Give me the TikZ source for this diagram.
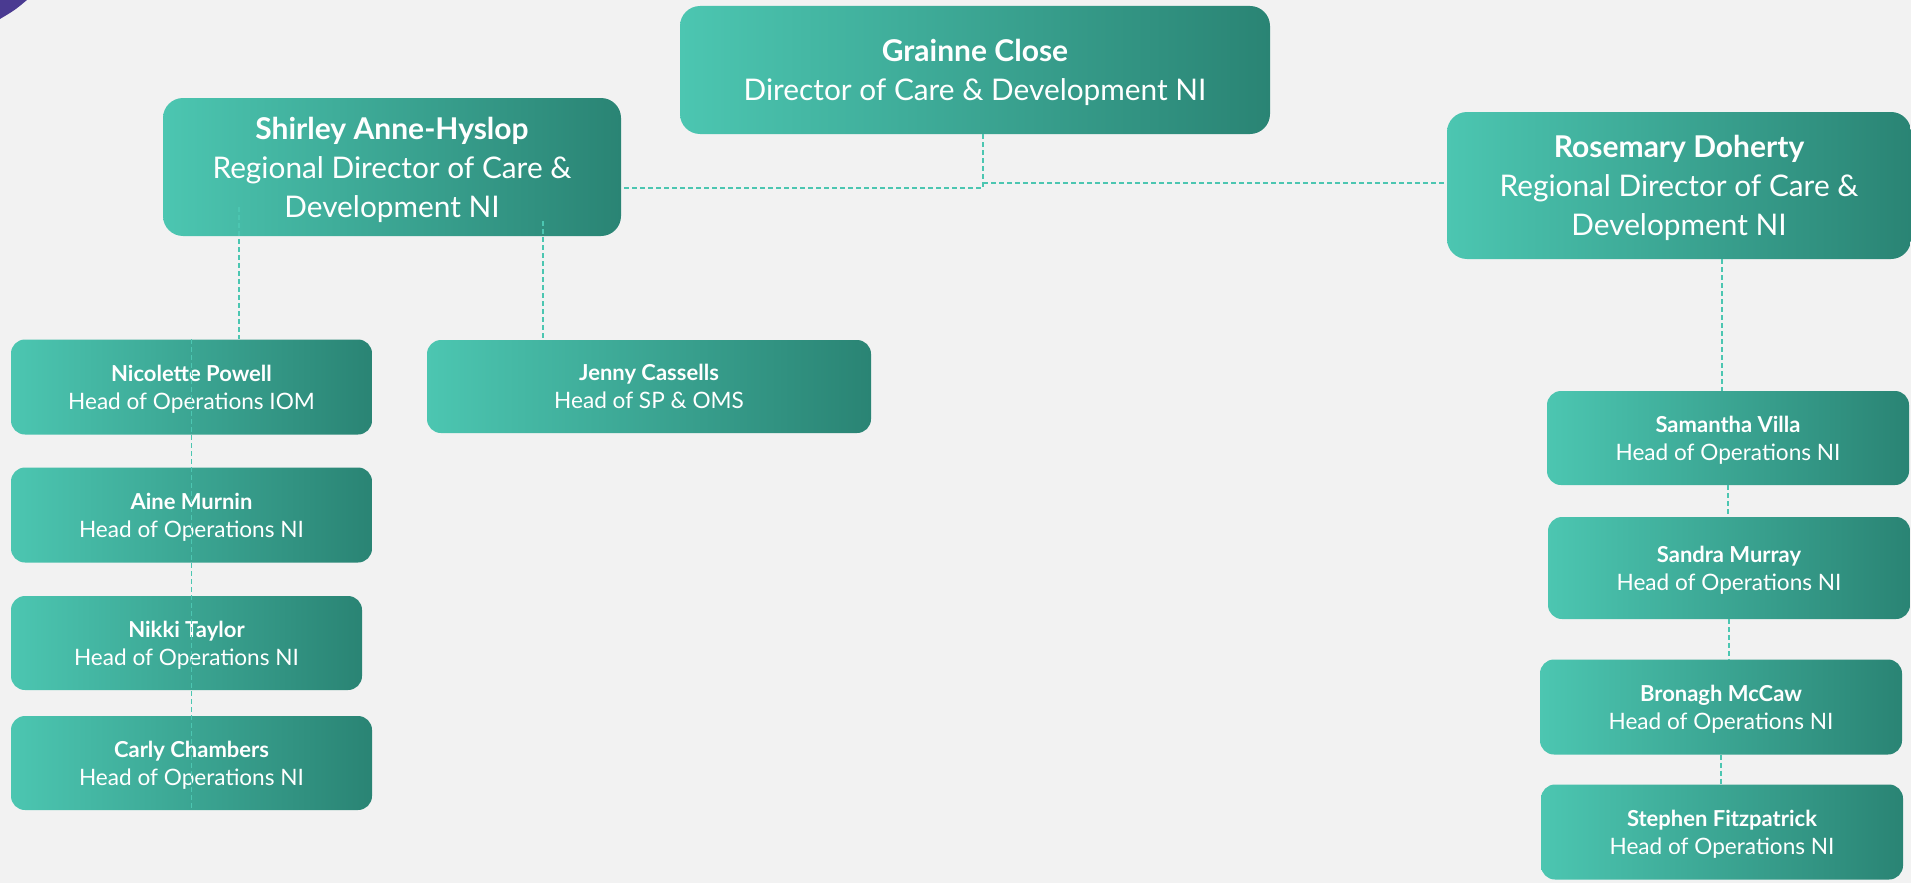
\documentclass[tikz,border=0pt]{standalone}
\usepackage{fontspec}
\setmainfont{Lato}
\usepackage{xcolor}
\usepackage{tikz}

\definecolor{pagegrey}{HTML}{F2F2F2}
\definecolor{tealleft}{HTML}{4CC6B1}
\definecolor{tealright}{HTML}{2A8474}
\definecolor{linkteal}{HTML}{4CC6B1}
\definecolor{cornerpurple}{HTML}{4A3A91}

\newcommand{\bigname}[1]{{\bfseries\fontsize{30}{39}\selectfont #1}}
\newcommand{\smallname}[1]{{\bfseries\fontsize{22}{28}\selectfont #1}}

\tikzset{
  bigbox/.style={rectangle, rounded corners=20pt, left color=tealleft, right color=tealright,
    text=white, align=center, inner sep=0pt, text depth=-9pt, font=\fontsize{29.8}{39}\selectfont},
  smallbox/.style={rectangle, rounded corners=14pt, left color=tealleft, right color=tealright,
    text=white, align=center, inner sep=0pt, text depth=-5.5pt, font=\fontsize{22.6}{28}\selectfont},
  link/.style={linkteal, line width=1.5pt, dash pattern=on 5pt off 3pt},
}

\begin{document}
\begin{tikzpicture}[x=1pt, y=-1pt]
    % Page
    \useasboundingbox (0,0) rectangle (1911,883);
    \fill[pagegrey] (0,0) rectangle (1911,883);
    \fill[cornerpurple] (0,0) -- (27,0) .. controls (15,10) .. (0,19) -- cycle;

    % Top level
    \node[bigbox, minimum width=590pt, minimum height=128pt] (grainne) at (975,70)
        {\bigname{Grainne Close}\\Director of Care \& Development NI};

    % Regional directors
    \node[bigbox, minimum width=458pt, minimum height=138pt] (shirley) at (392,167)
        {\bigname{Shirley Anne-Hyslop}\\Regional Director of Care \&\\Development NI};
    \node[bigbox, minimum width=464pt, minimum height=147pt] (rosemary) at (1679,185.5)
        {\bigname{Rosemary Doherty}\\Regional Director of Care \&\\Development NI};

    % Heads under Shirley
    \node[smallbox, minimum width=361pt, minimum height=95pt] (nicolette) at (191.5,387)
        {\smallname{Nicolette Powell}\\Head of Operations IOM};
    \node[smallbox, minimum width=361pt, minimum height=95pt] (aine) at (191.5,515)
        {\smallname{Aine Murnin}\\Head of Operations NI};
    \node[smallbox, minimum width=351pt, minimum height=94pt] (nikki) at (186.5,643)
        {\smallname{Nikki Taylor}\\Head of Operations NI};
    \node[smallbox, minimum width=361pt, minimum height=94pt] (carly) at (191.5,763)
        {\smallname{Carly Chambers}\\Head of Operations NI};
    \node[smallbox, minimum width=444pt, minimum height=93pt] (jenny) at (649,386.5)
        {\smallname{Jenny Cassells}\\Head of SP \& OMS};

    % Heads under Rosemary
    \node[smallbox, minimum width=362pt, minimum height=94pt] (samantha) at (1728,438)
        {\smallname{Samantha Villa}\\Head of Operations NI};
    \node[smallbox, minimum width=362pt, minimum height=102pt] (sandra) at (1729,568)
        {\smallname{Sandra Murray}\\Head of Operations NI};
    \node[smallbox, minimum width=362pt, minimum height=95pt] (bronagh) at (1721,707)
        {\smallname{Bronagh McCaw}\\Head of Operations NI};
    \node[smallbox, minimum width=362pt, minimum height=95pt] (stephen) at (1722,832)
        {\smallname{Stephen Fitzpatrick}\\Head of Operations NI};

    % Links
    \coordinate (hub) at (983,188);
    \coordinate (hubr) at (983,183);
    \draw[link] (hub |- grainne.south) -- (hub) -- (hub -| shirley.east);
    \draw[link] (hubr) -- (hubr -| rosemary.west);

    \coordinate (sl) at (239,207);
    \coordinate (sr) at (543,221);
    \draw[link] (sl) -- (sl |- nicolette.north);
    \draw[link] (sr) -- (sr |- jenny.north);
    \draw[link] (nicolette.north) -- (carly.south);

    \coordinate (rd) at (1722,259);
    \draw[link] (rd) -- (rd |- samantha.north);
    \draw[link] (samantha.south) -- (samantha.south |- sandra.north);
    \draw[link] (sandra.south) -- (sandra.south |- bronagh.north);
    \draw[link] (bronagh.south) -- (bronagh.south |- stephen.north);
\end{tikzpicture}
\end{document}
